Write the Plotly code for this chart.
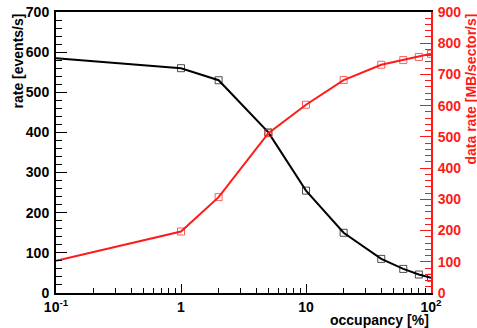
import plotly.graph_objects as go

occupancy = [0.1, 1, 2, 5, 10, 20, 40, 60, 80, 100]
event_rate = [585, 560, 530, 400, 255, 150, 85, 60, 46, 38]
data_rate = [103, 197, 307, 512, 603, 682, 731, 746, 756, 766]

x_tickvals = [0.1, 1, 10, 100]
x_ticktext = ["10<sup>-1</sup>", "1", "10", "10<sup>2</sup>"]
x_minor = [m * d for d in (0.1, 1, 10) for m in range(2, 10)]

RED = "#ff1a1a"
FONT = "Liberation Sans, Arial, Helvetica, sans-serif"
msizes = [0] + [7] * (len(occupancy) - 1)

fig = go.Figure()
fig.add_trace(go.Scatter(
    x=occupancy, y=event_rate, mode="lines+markers", yaxis="y",
    line=dict(color="black", width=2),
    marker=dict(symbol="square-open", size=msizes, color="black", line=dict(width=1)),
    cliponaxis=True))
fig.add_trace(go.Scatter(
    x=occupancy, y=data_rate, mode="lines+markers", yaxis="y2",
    line=dict(color=RED, width=2),
    marker=dict(symbol="square-open", size=msizes, color=RED, line=dict(width=1)),
    cliponaxis=True))

tickfont = dict(family=FONT, size=14, weight="bold", color="black")

fig.update_layout(
    width=477, height=328,
    margin=dict(l=56, r=46, t=12, b=35, autoexpand=False),
    paper_bgcolor="white", plot_bgcolor="white",
    showlegend=False,
    font=dict(family=FONT),
    xaxis=dict(
        type="log", range=[-1, 2], automargin=False,
        tickvals=x_tickvals, ticktext=x_ticktext,
        ticks="inside", ticklen=9, tickwidth=1, tickcolor="black",
        showline=True, linecolor="black", linewidth=2, mirror=True,
        showgrid=False, zeroline=False,
        tickfont=tickfont,
        minor=dict(tickvals=x_minor, ticks="inside", ticklen=5, tickcolor="black", showgrid=False),
    ),
    yaxis=dict(
        range=[0, 700], dtick=100, automargin=False,
        ticks="inside", ticklen=11, tickwidth=1, tickcolor="black",
        showline=True, linecolor="black", linewidth=2,
        showgrid=False, zeroline=False,
        tickfont=tickfont, ticklabelstandoff=2,
        minor=dict(dtick=20, ticks="inside", ticklen=6, tickcolor="black", showgrid=False),
    ),
    yaxis2=dict(
        overlaying="y", side="right", automargin=False,
        range=[0, 900], dtick=100,
        ticks="inside", ticklen=11, tickwidth=1, tickcolor=RED,
        showline=True, linecolor=RED, linewidth=2,
        showgrid=False, zeroline=False,
        tickfont=dict(family=FONT, size=14, weight="bold", color=RED), ticklabelstandoff=2,
        minor=dict(dtick=20, ticks="inside", ticklen=6, tickcolor=RED, showgrid=False),
    ),
    annotations=[
        dict(text="rate [events/s]", xref="paper", yref="paper", x=-0.104, y=1.0,
             xanchor="center", yanchor="top", textangle=-90, showarrow=False,
             font=dict(family=FONT, size=14, weight="bold", color="black")),
        dict(text="data rate [MB/sector/s]", xref="paper", yref="paper", x=1.104, y=1.0,
             xanchor="center", yanchor="top", textangle=-90, showarrow=False,
             font=dict(family=FONT, size=14, weight="bold", color=RED)),
        dict(text="occupancy [%]", xref="paper", yref="paper", x=1.0, y=-0.096,
             xanchor="right", yanchor="middle", showarrow=False,
             font=dict(family=FONT, size=14, weight="bold", color="black")),
    ],
)

fig.write_html("out.html", config={"displayModeBar": False},
               post_script="document.body.style.margin='0';document.body.style.padding='0';")
